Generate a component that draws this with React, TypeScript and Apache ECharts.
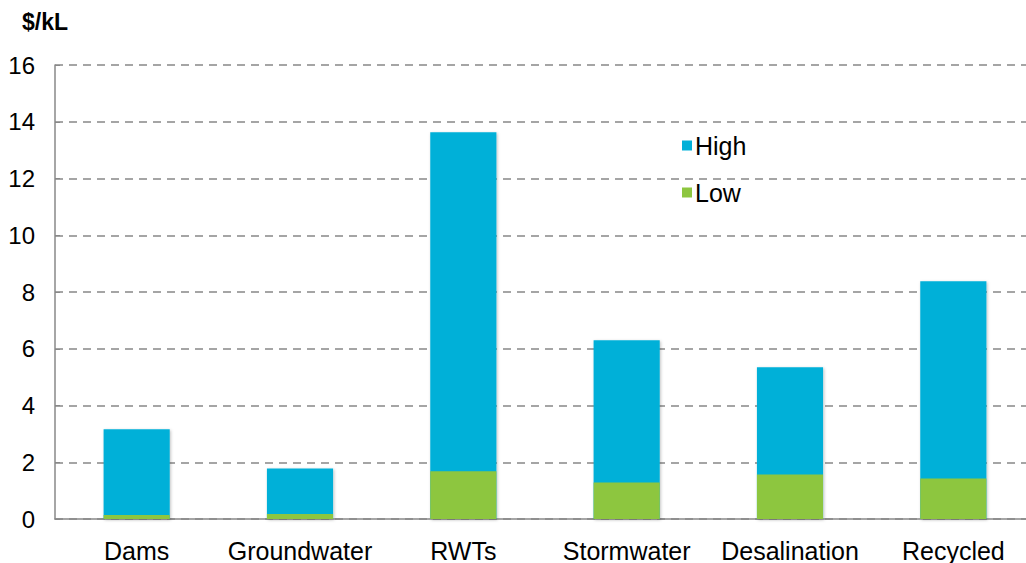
import React, { useEffect, useRef } from "react";
import * as echarts from "echarts";

const categories = ["Dams", "Groundwater", "RWTs", "Stormwater", "Desalination", "Recycled"];
const highValues = [3.16, 1.78, 13.63, 6.3, 5.35, 8.38];
const lowValues = [0.14, 0.18, 1.68, 1.29, 1.57, 1.43];
const unitLabel = "$/kL";

const FONT = "'Liberation Sans', Arial, Helvetica, sans-serif";

export default function App() {
  const ref = useRef<HTMLDivElement>(null);
  useEffect(() => {
    if (!ref.current) return;
    const chart = echarts.init(ref.current, null, { renderer: "svg" });
    chart.setOption({
      animation: false,
      backgroundColor: "#ffffff",
      textStyle: { fontFamily: FONT },
      title: {
        text: unitLabel,
        left: 17,
        top: 5,
        textStyle: { fontFamily: FONT, fontSize: 23, fontWeight: "bold", color: "#000" },
      },
      legend: {
        data: ["High", "Low"],
        orient: "vertical",
        left: 677,
        top: 128,
        itemWidth: 10,
        itemHeight: 10,
        itemGap: 22,
        icon: "rect",
        textStyle: { fontFamily: FONT, fontSize: 25, color: "#000", padding: [0, 0, 0, -2] },
      },
      grid: { left: 55, right: 0, top: 65, bottom: 44, containLabel: false },
      xAxis: {
        type: "category",
        data: categories,
        axisLine: { show: true, lineStyle: { color: "#888", width: 1.5 } },
        axisTick: { show: false },
        axisLabel: { fontFamily: FONT, fontSize: 25, color: "#000", margin: 19, interval: 0 },
      },
      yAxis: {
        type: "value",
        min: 0,
        max: 16,
        interval: 2,
        axisLine: { show: true, lineStyle: { color: "#888", width: 1.5 } },
        axisTick: { show: true, length: 5, inside: true, lineStyle: { color: "#888" } },
        axisLabel: { fontFamily: FONT, fontSize: 24, color: "#000", margin: 20 },
        splitLine: { show: true, lineStyle: { color: "#888", type: [8, 6], width: 1.5 } },
      },
      series: [
        {
          name: "High",
          type: "bar",
          data: highValues,
          barWidth: "40.5%",
          barGap: "-100%",
          itemStyle: { color: "#00B0D8", shadowBlur: 3, shadowColor: "rgba(0,0,0,0.25)", shadowOffsetX: 1, shadowOffsetY: 1 },
          z: 2,
        },
        {
          name: "Low",
          type: "bar",
          data: lowValues,
          barWidth: "40.5%",
          barGap: "-100%",
          itemStyle: { color: "#8DC63F" },
          z: 3,
        },
      ],
    });
    return () => chart.dispose();
  }, []);
  return (
    <div style={{ width: 1026, height: 563, position: "absolute", left: 0, top: 0, overflow: "hidden", background: "#fff" }}>
      <div ref={ref} style={{ width: 1035, height: 563, position: "absolute", left: 0, top: 0 }} />
    </div>
  );
}
